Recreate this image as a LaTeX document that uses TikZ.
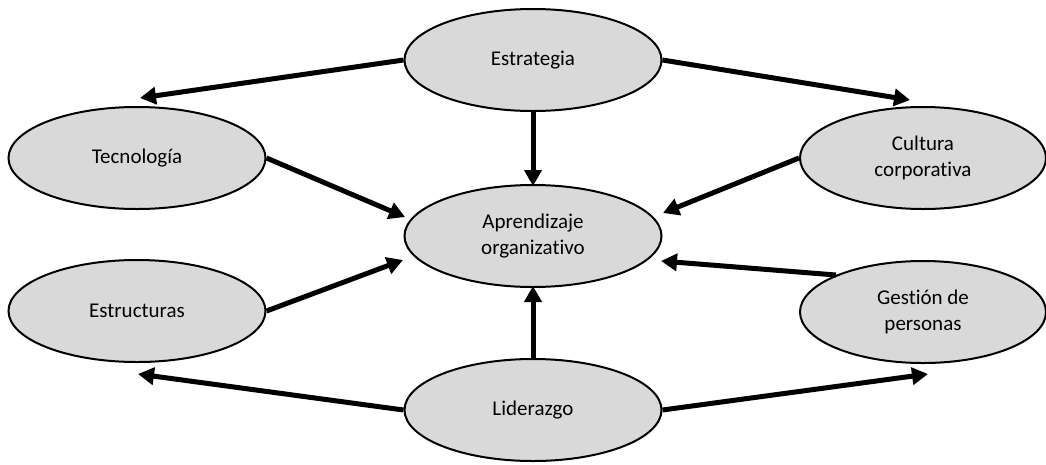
\documentclass[tikz,border=0pt]{standalone}
\usepackage{fontspec}
\setmainfont{Carlito}[Ligatures={NoCommon}]
\usetikzlibrary{shapes.geometric,arrows.meta}
\definecolor{bubble}{HTML}{D9D9D9}
\tikzset{
  bubble/.style={ellipse, draw=black, line width=2pt, fill=bubble,
    inner sep=0pt, minimum width=257pt, minimum height=102pt,
    align=center, font=\fontsize{21}{26}\selectfont},
  flow/.style={line width=5pt, -{Triangle[length=16pt,width=17pt]}}
}
\begin{document}
\begin{tikzpicture}[x=1pt,y=-1pt]
\useasboundingbox (0,0) rectangle (1046,464);
% concepts
\node[bubble] (estr)  at (533,60)  {Estrategia};
\node[bubble] (tec)   at (137,158) {Tecnología};
\node[bubble, minimum width=246pt] (cul) at (923,158) {Cultura\\corporativa};
\node[bubble] (apr)   at (533,236) {Aprendizaje\\organizativo};
\node[bubble] (estru) at (137,311) {Estructuras};
\node[bubble, minimum width=246pt] (gest) at (923,312) {Gestión de\\personas};
\node[bubble] (lid)   at (533,410) {Liderazgo};
% arrow tips
\coordinate (tTec)  at (140,98);
\coordinate (tCul)  at (910,100);
\coordinate (tAprN) at (533,186);
\coordinate (tAprW1) at (405,217);
\coordinate (tAprE1) at (663,213);
\coordinate (tAprW2) at (403,260);
\coordinate (tAprE2) at (661,261);
\coordinate (tAprS) at (533,286);
\coordinate (tEstru) at (138,374);
\coordinate (tGest) at (928,374);
% influences
\draw[flow] (estr.west) -- (tTec);
\draw[flow] (estr.east) -- (tCul);
\draw[flow] (estr.south) -- (tAprN);
\draw[flow] (tec.east) -- (tAprW1);
\draw[flow] (cul.west) -- (tAprE1);
\draw[flow] (estru.east) -- (tAprW2);
\draw[flow] (gest.157) -- (tAprE2);
\draw[flow] (lid.north) -- (tAprS);
\draw[flow] (lid.west) -- (tEstru);
\draw[flow] (lid.east) -- (tGest);
\end{tikzpicture}
\end{document}
